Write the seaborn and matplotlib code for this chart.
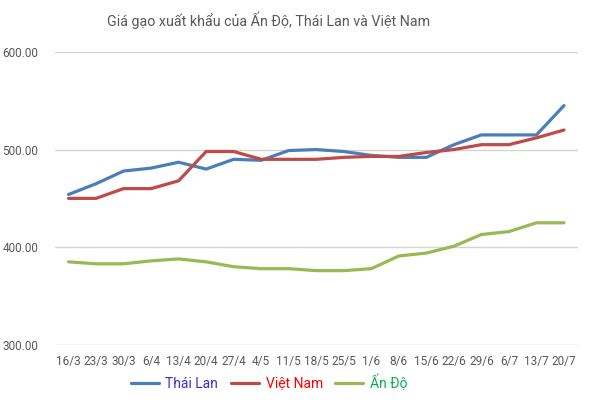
import pandas as pd
import matplotlib.pyplot as plt
import seaborn as sns

# data
weeks = ['16/3', '23/3', '30/3', '6/4', '13/4', '20/4', '27/4', '4/5', '11/5', '18/5',
         '25/5', '1/6', '8/6', '15/6', '22/6', '29/6', '6/7', '13/7', '20/7']
thai_lan = [454, 465, 478, 481, 487, 480, 490, 489, 499, 500,
            498, 494, 492, 492, 505, 515, 515, 515, 545]
viet_nam = [450, 450, 460, 460, 468, 498, 498, 490, 490, 490,
            492, 493, 493, 497, 500, 505, 505, 512, 520]
an_do = [385, 383, 383, 386, 388, 385, 380, 378, 378, 376,
         376, 378, 391, 394, 401, 413, 416, 425, 425]
series = ['Thái Lan', 'Việt Nam', 'Ấn Độ']

df = pd.DataFrame({'Tuần': weeks, 'Thái Lan': thai_lan, 'Việt Nam': viet_nam, 'Ấn Độ': an_do})
long = df.melt(id_vars='Tuần', var_name='Nước', value_name='Giá')

sns.set_style('white')
plt.rcParams['font.family'] = ['Roboto', 'DejaVu Sans']

line_colors = {'Thái Lan': '#4a7ebb', 'Việt Nam': '#be4b48', 'Ấn Độ': '#98b954'}
text_colors = {'Thái Lan': '#3333cc', 'Việt Nam': '#ff0000', 'Ấn Độ': '#00b050'}

fig = plt.figure(figsize=(5.95, 4.12), dpi=100)
ax = fig.add_axes([0.092, 0.163, 0.879, 0.711])

sns.lineplot(data=long, x='Tuần', y='Giá', hue='Nước', hue_order=series,
             palette=line_colors, linewidth=2.3, sort=False, ax=ax)

ax.set_ylim(300, 600)
ax.set_yticks([300, 400, 500, 600])
ax.set_yticklabels([f'{v:.2f}' for v in [300, 400, 500, 600]])
ax.set_xlim(-0.5, len(weeks) - 0.5)
ax.yaxis.grid(True, color='#d0d6cc', linewidth=1)
ax.set_axisbelow(True)
for s in ax.spines.values():
    s.set_visible(False)
ax.tick_params(axis='both', length=0, labelsize=8.5, colors='#595959', pad=7)
ax.tick_params(axis='y', pad=12)
ax.set_xlabel('')
ax.set_ylabel('')

fig.suptitle('Giá gạo xuất khẩu của Ấn Độ, Thái Lan và Việt Nam',
             x=0.452, y=0.972, fontsize=10.3, color='#595959')

handles, labels = ax.get_legend_handles_labels()
leg = ax.legend(handles, labels, loc='center', bbox_to_anchor=(0.41, -0.13),
                ncol=3, frameon=False, fontsize=10, handlelength=2.0,
                columnspacing=0.9, handletextpad=0.5)
for t in leg.get_texts():
    t.set_color(text_colors[t.get_text()])

plt.savefig('out.png', dpi=100)
